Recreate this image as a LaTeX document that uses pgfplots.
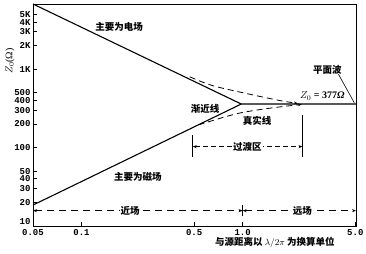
\documentclass[border=0pt]{standalone}
\usepackage{pgfplots}
\pgfplotsset{compat=1.18}
\usepackage{fontspec}
\setmainfont{Liberation Serif}
\setmonofont{Liberation Mono}
\newfontfamily\cjk{Noto Sans CJK SC}
\usetikzlibrary{arrows.meta}
\begin{document}
\begin{tikzpicture}
\begin{axis}[
  name=ax,
  scale only axis, width=323pt, height=222pt,
  xmode=log, ymode=log,
  xmin=0.05, xmax=5.05, ymin=10, ymax=6800,
  xtick={0.05,0.1,0.5,1,5}, xticklabels={0.05,0.1,0.5,1.0,5.0},
  ytick={20,30,40,50,100,200,300,400,500,1000,2000,3000,4000,5000},
  yticklabels={20,30,40,50,100,200,300,400,500,1K,2K,3K,4K,5K},
  extra y ticks={10}, extra y tick labels={10},
  extra y tick style={yticklabel style={yshift=4pt}},
  minor xtick={}, minor ytick={},
  tick pos=left,
  tick label style={font=\ttfamily\bfseries\fontsize{9}{9}\selectfont},
  xticklabel style={yshift=0pt},
  yticklabel style={xshift=1pt},
  major tick length=4pt,
  tick style={line width=0.7pt, black},
  axis line style={line width=0.8pt},
  clip mode=individual,
  xlabel={\cjk\bfseries 与源距离以 $\lambda/2\pi$ 为换算单位},
  xlabel style={at={(axis description cs:0.749,-0.072)}, anchor=center, font=\fontsize{9.5}{10}\selectfont},
  ylabel={$Z_0$(Ω)},
  ylabel style={at={(axis description cs:-0.071,0.743)}, anchor=center, font=\fontsize{10}{10}\selectfont},
]
\addplot[black, line width=1.1pt] coordinates {(0.05,6800) (0.98,360)};
\addplot[black, line width=1.1pt] coordinates {(0.05,18.5) (0.98,360) (5.05,360)};
\addplot[black, line width=0.8pt, dash pattern=on 6pt off 4pt, smooth, -{Stealth[length=4pt,width=3pt]}] coordinates {(0.47,800) (0.656,615) (1.16,470) (1.71,398) (2.2,366)};
\addplot[black, line width=0.8pt, dash pattern=on 6pt off 4pt, smooth, -{Stealth[length=4pt,width=3pt]}] coordinates {(0.532,195) (0.92,271) (1.48,319) (2.33,356)};
% transition zone
\draw[line width=0.7pt] (axis cs:0.49,77) -- (axis cs:0.49,144);
\draw[line width=0.7pt] (axis cs:2.35,77) -- (axis cs:2.35,258);
\draw[line width=0.7pt, dash pattern=on 5pt off 3pt, {Stealth[length=4pt,width=3pt]}-{Stealth[length=4pt,width=3pt]}] (axis cs:0.49,103) -- (axis cs:2.35,103);
\node[fill=white, inner sep=1pt, font=\cjk\bfseries\fontsize{9.5}{10}\selectfont] at (axis cs:1.07,103) {过渡区};
% near / far field
\draw[line width=0.7pt, dash pattern=on 7pt off 5pt, {Stealth[length=4pt,width=3pt]}-{Stealth[length=4pt,width=3pt]}] (axis cs:0.05,15.7) -- (axis cs:1,15.7);
\draw[line width=0.7pt, dash pattern=on 7pt off 5pt, {Stealth[length=4pt,width=3pt]}-{Stealth[length=4pt,width=3pt]}] (axis cs:1,15.7) -- (axis cs:5.05,15.7);
\draw[line width=0.7pt] (axis cs:1,13.5) -- (axis cs:1,18.7);
\node[fill=white, inner sep=1pt, font=\cjk\bfseries\fontsize{9.5}{10}\selectfont] at (axis cs:0.2,15.7) {近场};
\node[fill=white, inner sep=1pt, font=\cjk\bfseries\fontsize{9.5}{10}\selectfont] at (axis cs:2.35,15.7) {远场};
% labels
\node[font=\cjk\bfseries\fontsize{9.5}{10}\selectfont] at (axis cs:0.171,3480) {主要为电场};
\node[font=\cjk\bfseries\fontsize{9.5}{10}\selectfont] at (axis cs:0.224,42) {主要为磁场};
\node[font=\cjk\bfseries\fontsize{9.5}{10}\selectfont] at (axis cs:0.585,313) {渐近线};
\node[font=\cjk\bfseries\fontsize{9.5}{10}\selectfont] at (axis cs:1.23,221) {真实线};
\node[font=\cjk\bfseries\fontsize{9.5}{10}\selectfont] at (axis cs:3.35,970) {平面波};
\draw[line width=0.6pt] (axis cs:3.93,865) -- (axis cs:4.93,373);
\node[font=\bfseries\fontsize{10}{10}\selectfont] at (axis cs:3.12,457) {$Z_0$ = 377\textit{Ω}};
\end{axis}
\pgfresetboundingbox
\path[use as bounding box] ([shift={(-33pt,-27pt)}]ax.south west) rectangle ([shift={(10pt,4pt)}]ax.north east);
\end{tikzpicture}
\end{document}
